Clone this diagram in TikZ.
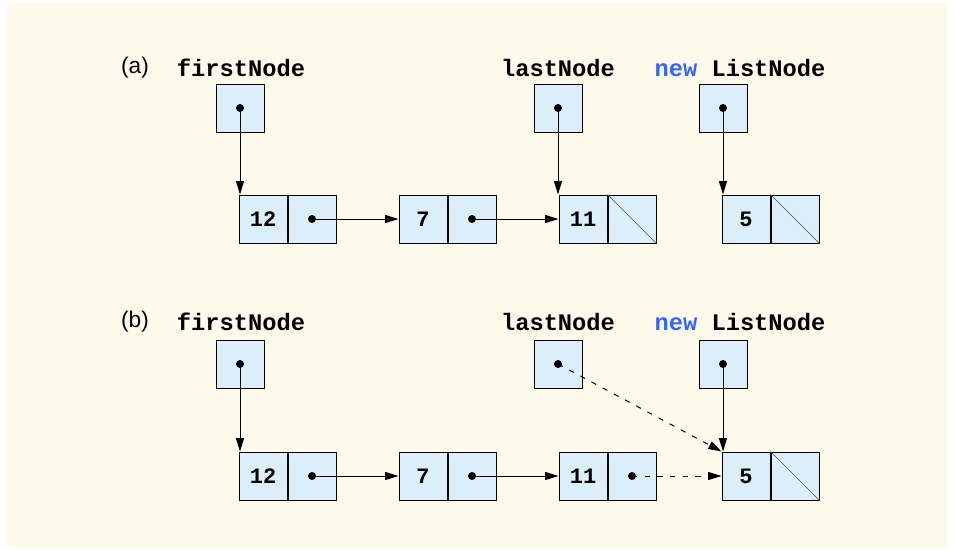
\documentclass[tikz,border=0pt]{standalone}
\usepackage{fontspec}
\setmainfont{Liberation Sans}
\newfontfamily\codefont{Liberation Mono}
\usepackage{xcolor}
\definecolor{cellblue}{RGB}{220,238,250}
\definecolor{bgcream}{RGB}{253,249,235}
\definecolor{keyblue}{RGB}{51,102,255}
\usetikzlibrary{arrows.meta, positioning}

\begin{document}
\begin{tikzpicture}[
    x=0.75pt, y=-0.75pt,
    cell/.style={rectangle, draw=black, line width=0.75pt, fill=cellblue, minimum size=36pt, inner sep=0pt, font=\codefont\bfseries\fontsize{16.5}{18}\selectfont},
    varname/.style={font=\codefont\bfseries\fontsize{17.8}{20}\selectfont, inner sep=0pt},
    panel/.style={font=\fontsize{17}{19}\selectfont, inner sep=0pt},
    arrow/.style={-{Triangle[length=10pt, width=6pt]}, line width=0.75pt},
    dasharrow/.style={arrow, dash pattern=on 4pt off 5.5pt}
]
\useasboundingbox (0,0) rectangle (954,550);
\fill[bgcream] (7,3) rectangle (947,547);

% (a)
\node[panel] (tagA) at (135,68) {(a)};
\node[varname] (firstNameA) at (241,68) {firstNode};
\node[varname] (lastNameA) at (558,68) {lastNode};
\node[varname] (newNameA) at (740,68) {\textcolor{keyblue}{new} ListNode};

\node[cell] (firstA) at (240,108) {};
\node[cell] (lastA) at (558,108) {};
\node[cell] (newA) at (723,108) {};

\node[cell] (v12A) at (263,219) {12};
\node[cell, right=0pt of v12A] (p12A) {};
\node[cell] (v7A) at (423,219) {7};
\node[cell, right=0pt of v7A] (p7A) {};
\node[cell] (v11A) at (583,219) {11};
\node[cell, right=0pt of v11A] (p11A) {};
\node[cell] (v5A) at (746,219) {5};
\node[cell, right=0pt of v5A] (p5A) {};

\draw[gray!60!black, line width=0.5pt] (p11A.north west) -- (p11A.south east);
\draw[gray!60!black, line width=0.5pt] (p5A.north west) -- (p5A.south east);

\foreach \n in {firstA, lastA, newA, p12A, p7A}
    \fill (\n.center) circle (3pt);

\draw[arrow] (firstA.center) -- (firstA.center |- v12A.north);
\draw[arrow] (lastA.center) -- (lastA.center |- v11A.north);
\draw[arrow] (newA.center) -- (newA.center |- v5A.north);
\draw[arrow] (p12A.center) -- (v7A.west);
\draw[arrow] (p7A.center) -- (v11A.west);

% (b)
\node[panel] (tagB) at (135,322) {(b)};
\node[varname] (firstNameB) at (241,322) {firstNode};
\node[varname] (lastNameB) at (558,322) {lastNode};
\node[varname] (newNameB) at (740,322) {\textcolor{keyblue}{new} ListNode};

\node[cell] (firstB) at (240,364) {};
\node[cell] (lastB) at (558,364) {};
\node[cell] (newB) at (723,364) {};

\node[cell] (v12B) at (263,476) {12};
\node[cell, right=0pt of v12B] (p12B) {};
\node[cell] (v7B) at (423,476) {7};
\node[cell, right=0pt of v7B] (p7B) {};
\node[cell] (v11B) at (583,476) {11};
\node[cell, right=0pt of v11B] (p11B) {};
\node[cell] (v5B) at (746,476) {5};
\node[cell, right=0pt of v5B] (p5B) {};

\draw[gray!60!black, line width=0.5pt] (p5B.north west) -- (p5B.south east);

\foreach \n in {firstB, lastB, newB, p12B, p7B, p11B}
    \fill (\n.center) circle (3pt);

\draw[arrow] (firstB.center) -- (firstB.center |- v12B.north);
\draw[arrow] (newB.center) -- (newB.center |- v5B.north);
\draw[arrow] (p12B.center) -- (v7B.west);
\draw[arrow] (p7B.center) -- (v11B.west);
\draw[dasharrow] (lastB.center) -- (v5B.north west);
\draw[dasharrow] (p11B.center) -- (v5B.west);
\end{tikzpicture}
\end{document}
